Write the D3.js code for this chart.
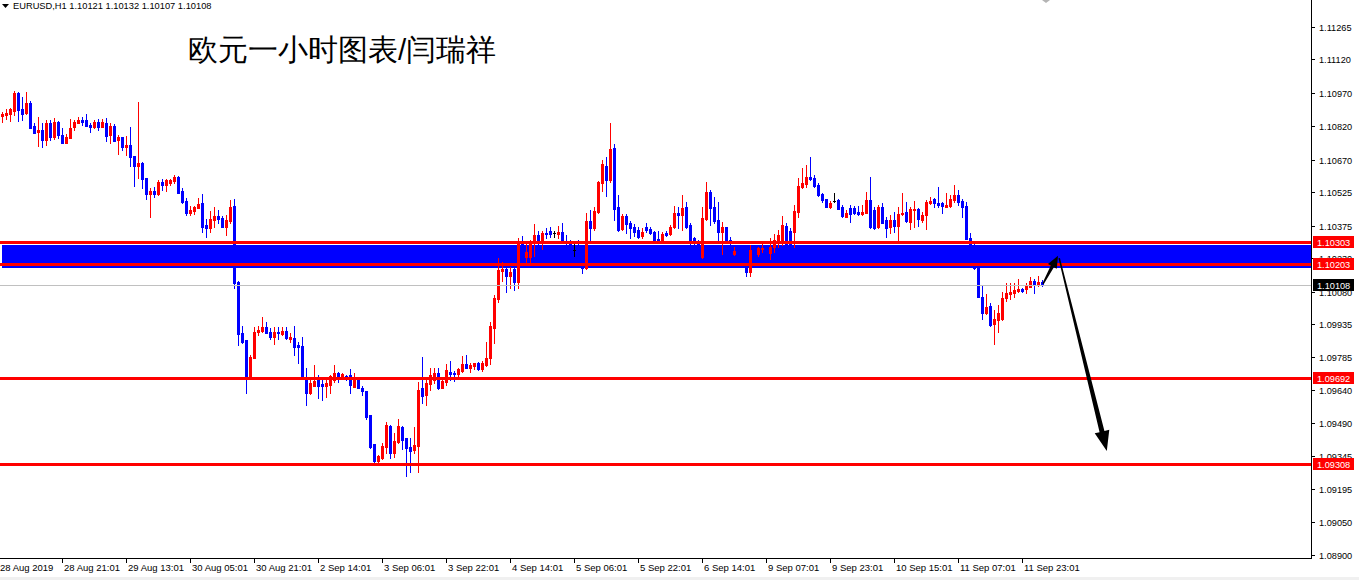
<!DOCTYPE html>
<html><head><meta charset="utf-8">
<script src="https://cdn.jsdelivr.net/npm/d3@7"></script>
<style>
html,body{margin:0;padding:0;background:#fff;overflow:hidden}
svg{display:block}
text{font-family:"Liberation Sans",Arial,sans-serif}
</style></head><body>
<svg id="chart" width="1359" height="580"></svg>
<script>
// ---------------- DATA ----------------
const symbolInfo = "EURUSD,H1  1.10121 1.10132 1.10107 1.10108";
const title = "欧元一小时图表/闫瑞祥";

const opens = [1.10866,1.10871,1.10875,1.10889,1.10969,1.10898,1.10880,1.10925,1.10822,1.10795,
1.10804,1.10759,1.10835,1.10772,1.10839,1.10781,1.10745,1.10768,1.10817,1.10835,
1.10848,1.10848,1.10826,1.10817,1.10839,1.10817,1.10835,1.10781,1.10822,1.10759,
1.10772,1.10727,1.10736,1.10687,1.10642,1.10656,1.10589,1.10517,1.10530,1.10517,
1.10571,1.10557,1.10566,1.10575,1.10593,1.10530,1.10486,1.10432,1.10441,1.10454,
1.10477,1.10378,1.10365,1.10400,1.10418,1.10409,1.10369,1.10396,1.10463,1.10123,
1.09894,1.09863,1.09697,1.09782,1.09899,1.09903,1.09921,1.09899,1.09876,1.09899,
1.09890,1.09903,1.09867,1.09872,1.09840,1.09836,1.09684,1.09625,1.09657,1.09684,
1.09666,1.09657,1.09661,1.09684,1.09715,1.09697,1.09702,1.09706,1.09652,1.09693,
1.09648,1.09634,1.09527,1.09397,1.09321,1.09334,1.09383,1.09478,1.09357,1.09406,
1.09473,1.09424,1.09383,1.09370,1.09388,1.09648,1.09616,1.09666,1.09684,1.09715,
1.09648,1.09675,1.09719,1.09715,1.09710,1.09724,1.09755,1.09737,1.09746,1.09760,
1.09733,1.09751,1.09782,1.09917,1.10046,1.10172,1.10181,1.10150,1.10181,1.10123,
1.10302,1.10235,1.10235,1.10297,1.10333,1.10306,1.10342,1.10351,1.10342,1.10338,
1.10347,1.10306,1.10302,1.10266,1.10288,1.10239,1.10185,1.10396,1.10365,1.10436,
1.10566,1.10642,1.10580,1.10723,1.10459,1.10360,1.10418,1.10387,1.10369,1.10356,
1.10329,1.10369,1.10360,1.10347,1.10315,1.10306,1.10342,1.10338,1.10369,1.10432,
1.10423,1.10459,1.10378,1.10320,1.10306,1.10235,1.10405,1.10526,1.10459,1.10400,
1.10347,1.10369,1.10311,1.10248,1.10262,1.10239,1.10199,1.10167,1.10266,1.10248,
1.10270,1.10275,1.10253,1.10279,1.10297,1.10311,1.10374,1.10351,1.10347,1.10436,
1.10548,1.10562,1.10593,1.10589,1.10557,1.10517,1.10494,1.10459,1.10486,1.10490,
1.10459,1.10414,1.10454,1.10454,1.10436,1.10427,1.10432,1.10490,1.10445,1.10369,
1.10459,1.10400,1.10369,1.10400,1.10374,1.10427,1.10436,1.10391,1.10445,1.10450,
1.10400,1.10423,1.10477,1.10494,1.10477,1.10477,1.10459,1.10463,1.10490,1.10512,
1.10486,1.10463,1.10320,1.10288,1.10190,1.10055,1.09984,1.10015,1.09934,1.09952,
1.09957,1.10051,1.10069,1.10073,1.10082,1.10091,1.10091,1.10100,1.10127,1.10109,
1.10121];

const highs = [1.10884,1.10898,1.10902,1.10978,1.10974,1.10951,1.10974,1.10934,1.10835,1.10862,
1.10835,1.10848,1.10848,1.10857,1.10844,1.10813,1.10786,1.10853,1.10848,1.10862,
1.10862,1.10875,1.10835,1.10848,1.10853,1.10853,1.10857,1.10835,1.10830,1.10781,
1.10772,1.10777,1.10817,1.10687,1.10929,1.10660,1.10589,1.10544,1.10548,1.10580,
1.10584,1.10584,1.10584,1.10602,1.10598,1.10544,1.10499,1.10463,1.10463,1.10499,
1.10517,1.10405,1.10441,1.10459,1.10445,1.10418,1.10423,1.10490,1.10494,1.10127,
1.09926,1.09863,1.09796,1.09921,1.09926,1.09966,1.09943,1.09917,1.09921,1.09921,
1.09921,1.09921,1.09894,1.09926,1.09854,1.09876,1.09737,1.09688,1.09751,1.09706,
1.09688,1.09697,1.09706,1.09751,1.09719,1.09715,1.09706,1.09733,1.09715,1.09697,
1.09657,1.09634,1.09527,1.09397,1.09348,1.09401,1.09495,1.09482,1.09446,1.09509,
1.09478,1.09424,1.09424,1.09473,1.09675,1.09787,1.09693,1.09737,1.09737,1.09737,
1.09697,1.09755,1.09769,1.09724,1.09737,1.09791,1.09796,1.09760,1.09760,1.09764,
1.09769,1.09854,1.09943,1.10064,1.10230,1.10212,1.10208,1.10190,1.10190,1.10320,
1.10329,1.10297,1.10311,1.10382,1.10351,1.10351,1.10365,1.10369,1.10351,1.10374,
1.10387,1.10333,1.10311,1.10297,1.10311,1.10257,1.10432,1.10445,1.10459,1.10575,
1.10669,1.10683,1.10835,1.10741,1.10512,1.10427,1.10427,1.10396,1.10382,1.10369,
1.10365,1.10387,1.10369,1.10351,1.10351,1.10347,1.10351,1.10378,1.10463,1.10459,
1.10512,1.10481,1.10387,1.10324,1.10311,1.10459,1.10571,1.10535,1.10503,1.10481,
1.10391,1.10369,1.10324,1.10279,1.10270,1.10248,1.10208,1.10288,1.10275,1.10279,
1.10293,1.10288,1.10320,1.10338,1.10356,1.10418,1.10387,1.10365,1.10468,1.10589,
1.10633,1.10647,1.10683,1.10602,1.10566,1.10521,1.10494,1.10486,1.10521,1.10494,
1.10468,1.10445,1.10468,1.10463,1.10463,1.10468,1.10526,1.10593,1.10459,1.10468,
1.10477,1.10414,1.10423,1.10436,1.10459,1.10521,1.10481,1.10459,1.10486,1.10454,
1.10436,1.10490,1.10503,1.10499,1.10548,1.10481,1.10521,1.10512,1.10557,1.10535,
1.10494,1.10481,1.10342,1.10302,1.10199,1.10109,1.10069,1.10029,1.09997,1.10020,
1.10078,1.10118,1.10118,1.10118,1.10136,1.10096,1.10118,1.10145,1.10136,1.10150,
1.10132];

const lows = [1.10839,1.10853,1.10844,1.10871,1.10844,1.10848,1.10875,1.10813,1.10790,1.10732,
1.10727,1.10736,1.10759,1.10763,1.10768,1.10745,1.10745,1.10768,1.10804,1.10835,
1.10826,1.10822,1.10795,1.10813,1.10804,1.10817,1.10754,1.10745,1.10754,1.10696,
1.10714,1.10692,1.10642,1.10553,1.10589,1.10544,1.10494,1.10414,1.10503,1.10512,
1.10535,1.10530,1.10557,1.10566,1.10521,1.10477,1.10423,1.10423,1.10427,1.10454,
1.10347,1.10324,1.10347,1.10369,1.10387,1.10369,1.10333,1.10387,1.10096,1.09840,
1.09849,1.09625,1.09697,1.09782,1.09885,1.09899,1.09894,1.09867,1.09845,1.09867,
1.09885,1.09867,1.09854,1.09796,1.09760,1.09697,1.09572,1.09621,1.09657,1.09603,
1.09594,1.09607,1.09625,1.09675,1.09675,1.09693,1.09684,1.09625,1.09652,1.09648,
1.09616,1.09509,1.09379,1.09316,1.09316,1.09330,1.09357,1.09334,1.09339,1.09401,
1.09374,1.09254,1.09271,1.09357,1.09271,1.09581,1.09572,1.09639,1.09670,1.09643,
1.09648,1.09661,1.09684,1.09679,1.09697,1.09719,1.09737,1.09719,1.09733,1.09728,
1.09724,1.09746,1.09755,1.09849,1.10033,1.10127,1.10078,1.10096,1.10087,1.10096,
1.10230,1.10212,1.10212,1.10239,1.10288,1.10270,1.10320,1.10324,1.10324,1.10320,
1.10297,1.10288,1.10279,1.10239,1.10212,1.10163,1.10181,1.10302,1.10356,1.10432,
1.10530,1.10508,1.10571,1.10400,1.10351,1.10356,1.10342,1.10320,1.10329,1.10320,
1.10320,1.10347,1.10338,1.10302,1.10297,1.10302,1.10329,1.10333,1.10365,1.10365,
1.10356,1.10365,1.10288,1.10288,1.10266,1.10230,1.10400,1.10378,1.10387,1.10311,
1.10248,1.10297,1.10279,1.10244,1.10226,1.10194,1.10150,1.10150,1.10239,1.10239,
1.10257,1.10244,1.10226,1.10257,1.10279,1.10288,1.10279,1.10230,1.10279,1.10414,
1.10544,1.10548,1.10580,1.10548,1.10508,1.10481,1.10459,1.10454,1.10481,1.10450,
1.10414,1.10414,1.10391,1.10427,1.10423,1.10423,1.10432,1.10365,1.10360,1.10365,
1.10387,1.10324,1.10342,1.10347,1.10306,1.10423,1.10391,1.10360,1.10369,1.10374,
1.10391,1.10360,1.10472,1.10459,1.10459,1.10432,1.10459,1.10459,1.10481,1.10468,
1.10414,1.10315,1.10284,1.10181,1.10055,1.09957,1.09979,1.09926,1.09845,1.09899,
1.09952,1.10038,1.10046,1.10055,1.10078,1.10078,1.10073,1.10100,1.10073,1.10105,
1.10107];

const closes = [1.10875,1.10880,1.10898,1.10969,1.10893,1.10875,1.10925,1.10813,1.10790,1.10804,
1.10759,1.10835,1.10772,1.10839,1.10781,1.10745,1.10772,1.10813,1.10839,1.10848,
1.10839,1.10822,1.10817,1.10839,1.10817,1.10839,1.10777,1.10822,1.10754,1.10772,
1.10727,1.10736,1.10683,1.10642,1.10656,1.10584,1.10517,1.10530,1.10517,1.10571,
1.10557,1.10580,1.10580,1.10593,1.10521,1.10481,1.10432,1.10445,1.10459,1.10472,
1.10369,1.10365,1.10405,1.10418,1.10405,1.10369,1.10400,1.10459,1.10118,1.09890,
1.09854,1.09702,1.09787,1.09899,1.09908,1.09921,1.09894,1.09876,1.09899,1.09894,
1.09903,1.09872,1.09876,1.09831,1.09831,1.09697,1.09625,1.09670,1.09679,1.09657,
1.09657,1.09670,1.09702,1.09715,1.09697,1.09710,1.09693,1.09661,1.09693,1.09648,
1.09634,1.09518,1.09383,1.09321,1.09343,1.09388,1.09482,1.09357,1.09410,1.09478,
1.09415,1.09379,1.09366,1.09392,1.09639,1.09612,1.09670,1.09706,1.09715,1.09648,
1.09679,1.09728,1.09710,1.09710,1.09733,1.09755,1.09737,1.09751,1.09760,1.09733,
1.09760,1.09782,1.09926,1.10051,1.10176,1.10181,1.10150,1.10167,1.10123,1.10297,
1.10239,1.10257,1.10297,1.10333,1.10306,1.10342,1.10338,1.10338,1.10342,1.10347,
1.10302,1.10297,1.10293,1.10266,1.10239,1.10185,1.10396,1.10365,1.10441,1.10571,
1.10651,1.10580,1.10718,1.10450,1.10356,1.10418,1.10382,1.10365,1.10347,1.10324,
1.10347,1.10356,1.10342,1.10306,1.10306,1.10338,1.10333,1.10369,1.10432,1.10423,
1.10454,1.10369,1.10311,1.10306,1.10284,1.10409,1.10526,1.10454,1.10396,1.10347,
1.10369,1.10302,1.10297,1.10262,1.10239,1.10199,1.10167,1.10266,1.10253,1.10275,
1.10275,1.10257,1.10279,1.10311,1.10333,1.10378,1.10284,1.10257,1.10441,1.10553,
1.10566,1.10593,1.10584,1.10553,1.10512,1.10490,1.10459,1.10477,1.10486,1.10450,
1.10418,1.10432,1.10427,1.10432,1.10427,1.10436,1.10490,1.10369,1.10365,1.10459,
1.10387,1.10365,1.10400,1.10374,1.10427,1.10432,1.10396,1.10450,1.10450,1.10405,
1.10423,1.10481,1.10486,1.10477,1.10468,1.10463,1.10468,1.10494,1.10512,1.10481,
1.10459,1.10315,1.10288,1.10185,1.10055,1.09984,1.10011,1.09930,1.09957,1.09984,
1.10051,1.10073,1.10078,1.10087,1.10091,1.10082,1.10105,1.10127,1.10114,1.10123,
1.10108];

const priceTicks = [1.11265,1.11120,1.10970,1.10820,1.10670,1.10525,1.10375,1.10230,1.10080,
                    1.09935,1.09785,1.09640,1.09490,1.09345,1.09195,1.09050,1.08900];
const timeLabels = ["28 Aug 2019","28 Aug 21:01","29 Aug 13:01","30 Aug 05:01","30 Aug 21:01",
  "2 Sep 14:01","3 Sep 06:01","3 Sep 22:01","4 Sep 14:01","5 Sep 06:01","5 Sep 22:01",
  "6 Sep 14:01","9 Sep 07:01","9 Sep 23:01","10 Sep 15:01","11 Sep 07:01","11 Sep 23:01"];
const timeLabelBars = [-1,15,31,47,63,79,95,111,127,143,159,175,191,207,223,239,255];

const levelLines = [1.10303, 1.10203, 1.09692, 1.09308];
const zoneTop = 1.10290, zoneBottom = 1.10187, zoneStartBar = 0;
const bidPrice = 1.10108;
const arrowFrom = [[260.25, 1.10114], [264.3, 1.10230]];
const arrowTo   = [[264.0, 1.10240], [276.2, 1.09366]];

// ---------------- DRAW ----------------
const W = 1359, H = 580, PR = 1311, AX = 558;
const svg = d3.select("#chart");
svg.append("rect").attr("width", W).attr("height", H).attr("fill", "#fff");

const x = d3.scaleLinear().domain([0, 327.25]).range([2, PR]);
const y = d3.scaleLinear().domain([1.08900, 1.11265]).range([555, 27]);
const ry = v => Math.round(y(v));

svg.append("defs").append("clipPath").attr("id", "plot")
  .append("rect").attr("x", 0).attr("y", 0).attr("width", PR).attr("height", AX);
const plot = svg.append("g").attr("clip-path", "url(#plot)").attr("shape-rendering", "crispEdges");

// zone rectangle (background)
plot.append("rect")
  .attr("x", Math.round(x(zoneStartBar))).attr("y", ry(zoneTop))
  .attr("width", PR - Math.round(x(zoneStartBar))).attr("height", ry(zoneBottom) - ry(zoneTop))
  .attr("fill", "#0000ff");

// candles
const bars = opens.map((o, i) => ({ i, o, h: highs[i], l: lows[i], c: closes[i] }));
const col = d => d.c > d.o ? "#ff0000" : (d.c < d.o ? "#0000ff" : "#000000");
plot.append("g").selectAll("rect").data(bars).join("rect")
  .attr("x", d => Math.round(x(d.i))).attr("y", d => ry(d.h))
  .attr("width", 1).attr("height", d => Math.max(1, ry(d.l) - ry(d.h) + 1))
  .attr("fill", col);
plot.append("g").selectAll("rect").data(bars).join("rect")
  .attr("x", d => Math.round(x(d.i)) - 1).attr("y", d => ry(Math.max(d.o, d.c)))
  .attr("width", 3).attr("height", d => Math.max(1, ry(Math.min(d.o, d.c)) - ry(Math.max(d.o, d.c)) + 1))
  .attr("fill", col);

// bid line
plot.append("rect").attr("x", 0).attr("y", ry(bidPrice)).attr("width", PR).attr("height", 1).attr("fill", "#c0c0c0");

// level lines
plot.append("g").selectAll("rect").data(levelLines).join("rect")
  .attr("x", 0).attr("y", d => ry(d) - 1).attr("width", PR).attr("height", 3).attr("fill", "#ff0000");

// arrows
function arrowPoly(p1, p2, wt, ws, wh, hl) {
  const dx = p2[0] - p1[0], dy = p2[1] - p1[1], len = Math.hypot(dx, dy);
  const ux = dx / len, uy = dy / len, nx = -uy, ny = ux;
  const bx = p2[0] - ux * hl, by = p2[1] - uy * hl;
  const P = (px, py, w) => [px + nx * w / 2, py + ny * w / 2];
  const M = (px, py, w) => [px - nx * w / 2, py - ny * w / 2];
  return [P(p1[0], p1[1], wt), P(bx, by, ws), P(bx, by, wh), p2, M(bx, by, wh), M(bx, by, ws), M(p1[0], p1[1], wt)];
}
const arrowStyle = [[1.5, 3.5, 10, 12], [1.5, 5, 15, 20]];
arrowFrom.forEach((f, k) => {
  const p1 = [x(f[0]), y(f[1])], p2 = [x(arrowTo[k][0]), y(arrowTo[k][1])];
  const s = arrowStyle[k];
  svg.append("polygon").attr("points", arrowPoly(p1, p2, s[0], s[1], s[2], s[3]).map(p => p.join(",")).join(" "))
    .attr("fill", "#000");
});

// right price axis
const axisG = svg.append("g").attr("shape-rendering", "crispEdges");
axisG.append("rect").attr("x", PR).attr("y", 0).attr("width", 1).attr("height", AX + 1).attr("fill", "#000");
axisG.selectAll(".yt").data(priceTicks).join("rect")
  .attr("x", PR).attr("y", d => ry(d)).attr("width", 4).attr("height", 1).attr("fill", "#000");
svg.append("g").selectAll("text").data(priceTicks).join("text")
  .attr("x", PR + 8).attr("y", d => ry(d) + 3.5)
  .attr("font-size", "9.2px").attr("fill", "#000").text(d => d.toFixed(5));

// price tags
const tags = levelLines.map(v => ({ v, bg: "#ff0000" })).concat([{ v: bidPrice, bg: "#000000" }]);
const tagG = svg.append("g");
tagG.selectAll("rect").data(tags).join("rect")
  .attr("x", PR + 2).attr("y", d => ry(d.v) - 6).attr("width", 41).attr("height", 12)
  .attr("fill", d => d.bg).attr("shape-rendering", "crispEdges");
tagG.selectAll("text").data(tags).join("text")
  .attr("x", PR + 6).attr("y", d => ry(d.v) + 3.5)
  .attr("font-size", "9.2px").attr("fill", "#fff").text(d => d.v.toFixed(5));

// bottom time axis
axisG.append("rect").attr("x", 0).attr("y", AX).attr("width", PR + 1).attr("height", 1).attr("fill", "#000");
axisG.selectAll(".xt").data(timeLabelBars).join("rect")
  .attr("x", d => Math.round(x(d))).attr("y", AX).attr("width", 1).attr("height", 5).attr("fill", "#000");
svg.append("g").selectAll("text").data(timeLabels).join("text")
  .attr("x", (d, k) => Math.round(x(timeLabelBars[k])) + 2).attr("y", AX + 13)
  .attr("font-size", "9.5px").attr("fill", "#000").text(d => d);

// window bottom strip
svg.append("rect").attr("x", 0).attr("y", 577).attr("width", W).attr("height", 3).attr("fill", "#f0f0f0");

// shift marker
svg.append("polygon").attr("points", "1042,0 1050,0 1046,3").attr("fill", "#b4b4b4");

// header
svg.append("polygon").attr("points", "2,4 9,4 5.5,8").attr("fill", "#000");
svg.append("text").attr("x", 13).attr("y", 9).attr("font-size", "9.3px").attr("fill", "#000").text(symbolInfo);

// title
svg.append("text").attr("x", 188).attr("y", 60)
  .attr("font-family", "'Noto Sans CJK SC', sans-serif").attr("font-size", "29.5px")
  .attr("font-weight", 300).attr("fill", "#000")
  .text(title);
</script>
</body></html>
